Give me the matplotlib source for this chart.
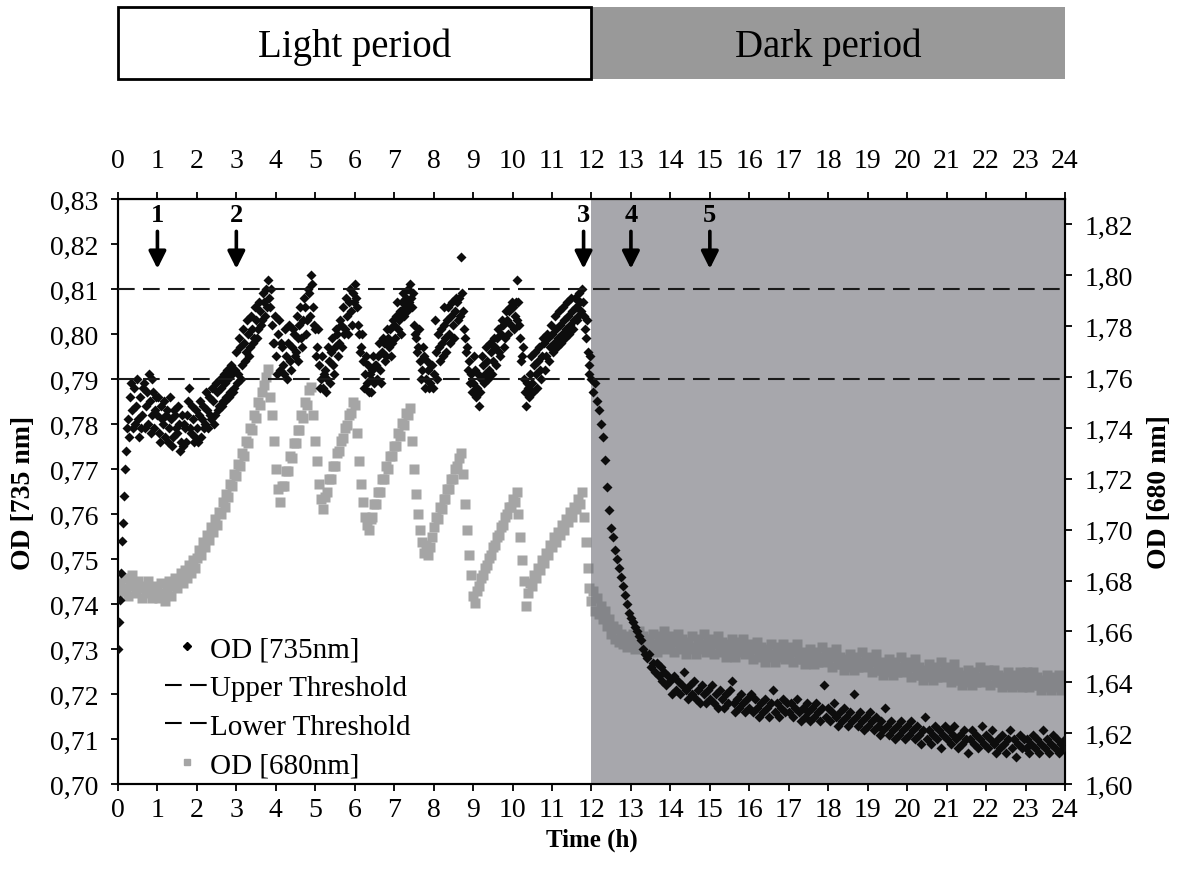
import matplotlib

matplotlib.use("Agg")

import matplotlib.pyplot as plt
import numpy as np
from matplotlib.lines import Line2D
from matplotlib.ticker import FuncFormatter, MultipleLocator

plt.rcParams["font.family"] = ["Liberation Serif", "DejaVu Serif"]

# amostras a cada 0.05 h (0 -> 24 h), uma linha = 1 hora
PASSO_H = 0.05

OD_735 = [
    0.730, 0.741, 0.754, 0.764, 0.774, 0.781, 0.786, 0.783, 0.788, 0.784, 0.781, 0.786, 0.782, 0.789, 0.784, 0.780, 0.785, 0.782, 0.787, 0.783,
    0.782, 0.778, 0.784, 0.780, 0.777, 0.783, 0.779, 0.781, 0.777, 0.782, 0.778, 0.780, 0.776, 0.775, 0.779, 0.782, 0.788, 0.778, 0.781, 0.777,
    0.779, 0.782, 0.777, 0.784, 0.780, 0.783, 0.786, 0.781, 0.785, 0.782, 0.787, 0.784, 0.788, 0.785, 0.789, 0.786, 0.790, 0.787, 0.791, 0.788,
    0.796, 0.791, 0.797, 0.793, 0.798, 0.796, 0.800, 0.797, 0.801, 0.799, 0.803, 0.801, 0.805, 0.803, 0.807, 0.810, 0.812, 0.806, 0.802, 0.798,
    0.795, 0.800, 0.792, 0.797, 0.791, 0.795, 0.798, 0.794, 0.797, 0.800, 0.796, 0.799, 0.802, 0.799, 0.803, 0.806, 0.803, 0.809, 0.813, 0.806,
    0.801, 0.797, 0.793, 0.790, 0.788, 0.792, 0.790, 0.794, 0.796, 0.793, 0.797, 0.800, 0.798, 0.802, 0.806, 0.801, 0.804, 0.807, 0.805, 0.809,
    0.811, 0.806, 0.800, 0.797, 0.794, 0.791, 0.789, 0.787, 0.790, 0.792, 0.789, 0.793, 0.795, 0.792, 0.796, 0.798, 0.795, 0.799, 0.801, 0.798,
    0.802, 0.804, 0.801, 0.805, 0.807, 0.804, 0.808, 0.810, 0.811, 0.806, 0.802, 0.799, 0.797, 0.794, 0.792, 0.795, 0.790, 0.792, 0.789, 0.793,
    0.791, 0.796, 0.800, 0.794, 0.798, 0.802, 0.799, 0.803, 0.800, 0.804, 0.802, 0.805, 0.807, 0.808, 0.817, 0.805, 0.799, 0.797, 0.794, 0.791,
    0.789, 0.792, 0.788, 0.784, 0.790, 0.793, 0.791, 0.794, 0.792, 0.796, 0.794, 0.797, 0.799, 0.796, 0.800, 0.802, 0.799, 0.803, 0.805, 0.802,
    0.806, 0.804, 0.812, 0.807, 0.799, 0.795, 0.790, 0.784, 0.788, 0.791, 0.789, 0.793, 0.791, 0.794, 0.792, 0.795, 0.798, 0.795, 0.799, 0.797,
    0.800, 0.798, 0.801, 0.799, 0.802, 0.800, 0.803, 0.801, 0.804, 0.802, 0.805, 0.803, 0.806, 0.804, 0.807, 0.810, 0.804, 0.799, 0.796, 0.793,
    0.790, 0.787, 0.789, 0.785, 0.783, 0.780, 0.777, 0.772, 0.766, 0.761, 0.757, 0.755, 0.752, 0.750, 0.748, 0.746, 0.744, 0.742, 0.740, 0.738,
    0.737, 0.736, 0.735, 0.734, 0.733, 0.732, 0.730, 0.729, 0.728, 0.729, 0.726, 0.727, 0.725, 0.727, 0.724, 0.726, 0.723, 0.725, 0.722, 0.724,
    0.723, 0.720, 0.724, 0.721, 0.723, 0.720, 0.722, 0.725, 0.721, 0.719, 0.722, 0.720, 0.723, 0.719, 0.721, 0.718, 0.722, 0.720, 0.718, 0.721,
    0.719, 0.722, 0.718, 0.720, 0.717, 0.721, 0.719, 0.717, 0.720, 0.718, 0.721, 0.723, 0.718, 0.716, 0.719, 0.717, 0.720, 0.718, 0.716, 0.719,
    0.717, 0.720, 0.716, 0.719, 0.717, 0.715, 0.718, 0.716, 0.719, 0.717, 0.715, 0.718, 0.721, 0.716, 0.718, 0.715, 0.717, 0.719, 0.716, 0.718,
    0.716, 0.718, 0.715, 0.717, 0.719, 0.716, 0.714, 0.717, 0.715, 0.718, 0.716, 0.714, 0.717, 0.715, 0.718, 0.716, 0.714, 0.717, 0.722, 0.715,
    0.717, 0.714, 0.716, 0.718, 0.715, 0.713, 0.716, 0.714, 0.717, 0.715, 0.713, 0.716, 0.714, 0.720, 0.715, 0.713, 0.716, 0.714, 0.712, 0.715,
    0.713, 0.716, 0.714, 0.712, 0.715, 0.713, 0.711, 0.714, 0.712, 0.717, 0.713, 0.711, 0.714, 0.712, 0.710, 0.713, 0.711, 0.714, 0.712, 0.710,
    0.713, 0.711, 0.714, 0.712, 0.710, 0.713, 0.711, 0.709, 0.712, 0.715, 0.710, 0.712, 0.709, 0.711, 0.713, 0.710, 0.712, 0.708, 0.711, 0.713,
    0.710, 0.712, 0.709, 0.711, 0.713, 0.710, 0.708, 0.711, 0.709, 0.712, 0.710, 0.707, 0.710, 0.712, 0.709, 0.711, 0.708, 0.710, 0.713, 0.709,
    0.711, 0.708, 0.710, 0.712, 0.709, 0.707, 0.710, 0.708, 0.711, 0.709, 0.707, 0.710, 0.712, 0.708, 0.710, 0.706, 0.709, 0.711, 0.708, 0.710,
    0.708, 0.710, 0.707, 0.709, 0.711, 0.708, 0.710, 0.707, 0.709, 0.712, 0.708, 0.710, 0.707, 0.709, 0.711, 0.708, 0.710, 0.707, 0.709, 0.708,
    0.710,
]

# amostras intercaladas (0.025 h, 0.075 h, ...) do período de luz
OD_735_INTERCALADO = [
    0.736, 0.747, 0.758, 0.770, 0.779, 0.777, 0.789, 0.779, 0.780, 0.790, 0.777, 0.779, 0.788, 0.779, 0.787, 0.791, 0.778, 0.790, 0.779, 0.786,
    0.786, 0.776, 0.781, 0.785, 0.782, 0.776, 0.786, 0.775, 0.783, 0.779, 0.784, 0.774, 0.782, 0.780, 0.776, 0.785, 0.779, 0.784, 0.776, 0.783,
    0.776, 0.785, 0.781, 0.779, 0.787, 0.779, 0.782, 0.788, 0.780, 0.789, 0.783, 0.790, 0.784, 0.791, 0.785, 0.792, 0.786, 0.793, 0.787, 0.792,
    0.789, 0.799, 0.790, 0.801, 0.794, 0.803, 0.795, 0.804, 0.798, 0.806, 0.799, 0.807, 0.802, 0.809, 0.804, 0.806, 0.808, 0.810, 0.798, 0.804,
    0.791, 0.803, 0.798, 0.793, 0.801, 0.790, 0.802, 0.792, 0.801, 0.795, 0.804, 0.794, 0.806, 0.797, 0.808, 0.800, 0.810, 0.804, 0.811, 0.802,
    0.795, 0.801, 0.788, 0.795, 0.791, 0.787, 0.797, 0.789, 0.799, 0.791, 0.801, 0.795, 0.803, 0.797, 0.800, 0.808, 0.800, 0.810, 0.802, 0.807,
    0.808, 0.802, 0.796, 0.800, 0.788, 0.795, 0.793, 0.791, 0.787, 0.795, 0.793, 0.790, 0.798, 0.789, 0.799, 0.794, 0.801, 0.797, 0.795, 0.803,
    0.799, 0.807, 0.803, 0.800, 0.809, 0.806, 0.805, 0.807, 0.808, 0.809, 0.800, 0.796, 0.801, 0.790, 0.797, 0.788, 0.794, 0.788, 0.793, 0.788,
    0.803, 0.790, 0.797, 0.801, 0.795, 0.806, 0.796, 0.806, 0.798, 0.807, 0.799, 0.808, 0.803, 0.804, 0.809, 0.801, 0.796, 0.792, 0.789, 0.787,
    0.795, 0.786, 0.791, 0.787, 0.795, 0.789, 0.797, 0.790, 0.798, 0.791, 0.799, 0.793, 0.801, 0.795, 0.803, 0.797, 0.805, 0.800, 0.806, 0.807,
    0.801, 0.807, 0.803, 0.802, 0.794, 0.797, 0.787, 0.789, 0.786, 0.795, 0.787, 0.796, 0.788, 0.797, 0.790, 0.799, 0.792, 0.800, 0.794, 0.802,
    0.796, 0.804, 0.797, 0.805, 0.798, 0.806, 0.799, 0.807, 0.800, 0.808, 0.801, 0.808, 0.803, 0.809, 0.805, 0.807, 0.801, 0.803, 0.791, 0.795,
]

OD_680 = [
    1.674, 1.679, 1.676, 1.681, 1.677, 1.674, 1.679, 1.682, 1.678, 1.675, 1.680, 1.677, 1.673, 1.678, 1.675, 1.680, 1.676, 1.673, 1.678, 1.674,
    1.677, 1.673, 1.679, 1.675, 1.672, 1.677, 1.680, 1.674, 1.678, 1.681, 1.677, 1.680, 1.683, 1.679, 1.684, 1.681, 1.686, 1.683, 1.688, 1.685,
    1.689, 1.692, 1.690, 1.695, 1.693, 1.698, 1.696, 1.701, 1.699, 1.704, 1.702, 1.707, 1.706, 1.711, 1.709, 1.714, 1.713, 1.718, 1.717, 1.722,
    1.721, 1.726, 1.725, 1.730, 1.729, 1.735, 1.734, 1.740, 1.739, 1.745, 1.744, 1.750, 1.749, 1.754, 1.757, 1.760, 1.763, 1.752, 1.745, 1.735,
    1.724, 1.716, 1.711, 1.717, 1.717, 1.723, 1.723, 1.729, 1.728, 1.734, 1.734, 1.739, 1.739, 1.745, 1.744, 1.750, 1.749, 1.755, 1.756, 1.745,
    1.735, 1.727, 1.718, 1.712, 1.708, 1.713, 1.715, 1.720, 1.720, 1.725, 1.725, 1.730, 1.731, 1.735, 1.736, 1.740, 1.741, 1.745, 1.746, 1.750,
    1.749, 1.738, 1.727, 1.718, 1.711, 1.705, 1.702, 1.700, 1.704, 1.705, 1.710, 1.710, 1.715, 1.715, 1.720, 1.720, 1.725, 1.724, 1.729, 1.729,
    1.733, 1.733, 1.738, 1.737, 1.742, 1.741, 1.746, 1.745, 1.748, 1.735, 1.724, 1.714, 1.706, 1.700, 1.695, 1.691, 1.694, 1.690, 1.693, 1.697,
    1.701, 1.705, 1.704, 1.709, 1.708, 1.712, 1.712, 1.716, 1.716, 1.720, 1.720, 1.724, 1.725, 1.728, 1.730, 1.722, 1.710, 1.700, 1.690, 1.682,
    1.674, 1.671, 1.676, 1.678, 1.681, 1.682, 1.685, 1.686, 1.689, 1.690, 1.693, 1.694, 1.697, 1.698, 1.701, 1.702, 1.705, 1.706, 1.709, 1.709,
    1.712, 1.711, 1.715, 1.706, 1.697, 1.688, 1.680, 1.670, 1.675, 1.679, 1.678, 1.682, 1.681, 1.685, 1.684, 1.688, 1.687, 1.691, 1.690, 1.694,
    1.693, 1.697, 1.695, 1.699, 1.698, 1.702, 1.700, 1.704, 1.703, 1.707, 1.705, 1.709, 1.708, 1.712, 1.710, 1.715, 1.705, 1.695, 1.685, 1.677,
    1.672, 1.676, 1.668, 1.673, 1.667, 1.670, 1.665, 1.668, 1.662, 1.665, 1.659, 1.662, 1.657, 1.661, 1.656, 1.659, 1.655, 1.658, 1.654, 1.657,
    1.655, 1.659, 1.653, 1.657, 1.660, 1.654, 1.658, 1.655, 1.652, 1.657, 1.654, 1.659, 1.655, 1.652, 1.658, 1.654, 1.656, 1.660, 1.653, 1.657,
    1.654, 1.658, 1.652, 1.656, 1.659, 1.653, 1.657, 1.654, 1.651, 1.656, 1.653, 1.658, 1.654, 1.651, 1.657, 1.653, 1.655, 1.659, 1.652, 1.656,
    1.653, 1.657, 1.651, 1.655, 1.658, 1.652, 1.656, 1.653, 1.650, 1.655, 1.652, 1.657, 1.653, 1.650, 1.656, 1.652, 1.654, 1.657, 1.651, 1.654,
    1.652, 1.655, 1.649, 1.653, 1.656, 1.650, 1.654, 1.651, 1.648, 1.653, 1.650, 1.655, 1.651, 1.648, 1.654, 1.650, 1.652, 1.655, 1.649, 1.652,
    1.651, 1.654, 1.648, 1.652, 1.655, 1.649, 1.652, 1.649, 1.647, 1.651, 1.648, 1.653, 1.650, 1.647, 1.652, 1.648, 1.650, 1.654, 1.648, 1.651,
    1.649, 1.652, 1.646, 1.650, 1.653, 1.647, 1.650, 1.647, 1.645, 1.649, 1.646, 1.651, 1.648, 1.645, 1.650, 1.646, 1.648, 1.652, 1.646, 1.649,
    1.647, 1.650, 1.644, 1.648, 1.651, 1.645, 1.648, 1.645, 1.643, 1.647, 1.644, 1.649, 1.646, 1.643, 1.648, 1.644, 1.646, 1.650, 1.644, 1.647,
    1.645, 1.648, 1.642, 1.646, 1.649, 1.643, 1.646, 1.643, 1.641, 1.645, 1.642, 1.647, 1.644, 1.641, 1.646, 1.642, 1.644, 1.648, 1.642, 1.645,
    1.643, 1.646, 1.640, 1.644, 1.647, 1.641, 1.644, 1.641, 1.639, 1.643, 1.640, 1.645, 1.642, 1.639, 1.644, 1.640, 1.642, 1.646, 1.640, 1.643,
    1.642, 1.645, 1.639, 1.643, 1.645, 1.640, 1.643, 1.640, 1.638, 1.642, 1.639, 1.644, 1.641, 1.638, 1.643, 1.639, 1.641, 1.644, 1.638, 1.641,
    1.641, 1.644, 1.638, 1.642, 1.644, 1.639, 1.642, 1.639, 1.637, 1.641, 1.638, 1.643, 1.640, 1.637, 1.642, 1.638, 1.640, 1.643, 1.637, 1.640,
    1.639,
]

LIMIAR_SUPERIOR = 0.81
LIMIAR_INFERIOR = 0.79

SETAS_T = [1, 3, 11.8, 13, 15]
SETAS_ROTULOS = ["1", "2", "3", "4", "5"]

PERIODOS = ["Light period", "Dark period"]
INICIO_ESCURO = 12
FIM = 24


def formatar_virgula(valor, pos):
    return f"{valor:.2f}".replace(".", ",")


def main():
    fig = plt.figure(figsize=(11.82, 8.79), dpi=100)

    ax = fig.add_axes([0.0998, 0.1069, 0.8012, 0.6656])
    ax2 = ax.twinx()

    # eixo da direita fica atrás (sombreamento escurece os pontos cinza)
    ax.set_zorder(ax2.get_zorder() + 1)
    ax.patch.set_visible(False)
    ax2.patch.set_facecolor("white")

    t_735 = np.arange(len(OD_735)) * PASSO_H
    t_735_meio = np.arange(len(OD_735_INTERCALADO)) * PASSO_H + PASSO_H / 2
    t_680 = np.arange(len(OD_680)) * PASSO_H

    ax2.plot(t_680, OD_680, linestyle="none", marker="s", ms=7.2,
             color="#a5a5a5", mec="none", zorder=2)
    ax2.axvspan(INICIO_ESCURO, FIM, color="#717279", alpha=0.62, lw=0, zorder=3)

    for tempos, valores in ((t_735, OD_735), (t_735_meio, OD_735_INTERCALADO)):
        ax.plot(tempos, valores, linestyle="none", marker="D", ms=5.6,
                color="#0d0d0d", mec="none", zorder=3)

    for limiar in (LIMIAR_SUPERIOR, LIMIAR_INFERIOR):
        ax.axhline(limiar, color="#1a1a1a", lw=1.5, dashes=(8, 4), zorder=4)

    for t, rotulo in zip(SETAS_T, SETAS_ROTULOS):
        ax.annotate("", xy=(t, 0.8145), xytext=(t, 0.8228),
                    arrowprops=dict(arrowstyle="-|>", lw=2.6, color="black",
                                    mutation_scale=26, shrinkA=0, shrinkB=0),
                    zorder=5)
        ax.text(t, 0.8266, rotulo, ha="center", va="center",
                fontsize=19, fontweight="bold", zorder=5)

    ax.set_xlim(0, FIM)
    ax.set_ylim(0.70, 0.83)
    ax2.set_ylim(1.60, 1.83)

    ax.xaxis.set_major_locator(MultipleLocator(1))
    ax.yaxis.set_major_locator(MultipleLocator(0.01))
    ax2.yaxis.set_major_locator(MultipleLocator(0.02))
    ax.yaxis.set_major_formatter(FuncFormatter(formatar_virgula))
    ax2.yaxis.set_major_formatter(FuncFormatter(formatar_virgula))

    for eixo in (ax, ax2):
        eixo.tick_params(direction="out", length=5, width=1.3, labelsize=20)
        eixo.tick_params(axis="y", pad=9)
        for spine in eixo.spines.values():
            spine.set_linewidth(1.5)
    ax.tick_params(axis="x", pad=4)

    topo = ax.secondary_xaxis("top")
    topo.xaxis.set_major_locator(MultipleLocator(1))
    topo.tick_params(direction="out", length=5, width=1.3, labelsize=20, pad=14)

    ax.set_xlabel("Time (h)", fontsize=18, fontweight="bold", labelpad=4)
    ax.set_ylabel("OD [735 nm]", fontsize=20, fontweight="bold", labelpad=10)
    ax2.set_ylabel("OD [680 nm]", fontsize=20, fontweight="bold",
                   rotation=90, labelpad=10)

    handles = [
        Line2D([], [], linestyle="none", marker="D", ms=4, color="black"),
        Line2D([], [], color="black", lw=1.5, dashes=(8, 4)),
        Line2D([], [], color="black", lw=1.5, dashes=(8, 4)),
        Line2D([], [], linestyle="none", marker="s", ms=5, color="#a5a5a5"),
    ]
    rotulos = ["OD [735nm]", "Upper Threshold", "Lower Threshold", "OD [680nm]"]
    ax.legend(handles, rotulos, loc="lower left", bbox_to_anchor=(0.022, -0.035),
              frameon=False, fontsize=21, handlelength=1.5, handletextpad=0.05,
              labelspacing=0.42)

    # barra de períodos acima do gráfico
    barra = fig.add_axes([0.0998, 0.909, 0.8012, 0.0819])
    barra.set_xlim(0, FIM)
    barra.set_ylim(0, 1)
    barra.axis("off")
    barra.axvspan(INICIO_ESCURO, FIM, color="#999999", lw=0)
    barra.add_patch(plt.Rectangle((0, 0), INICIO_ESCURO, 1, facecolor="white",
                                  edgecolor="black", lw=2, clip_on=False))
    barra.text(INICIO_ESCURO / 2, 0.45, PERIODOS[0], ha="center", va="center",
               fontsize=28)
    barra.text((INICIO_ESCURO + FIM) / 2, 0.45, PERIODOS[1], ha="center",
               va="center", fontsize=28)

    fig.savefig("out.png", dpi=100)
    plt.close(fig)


if __name__ == "__main__":
    main()
